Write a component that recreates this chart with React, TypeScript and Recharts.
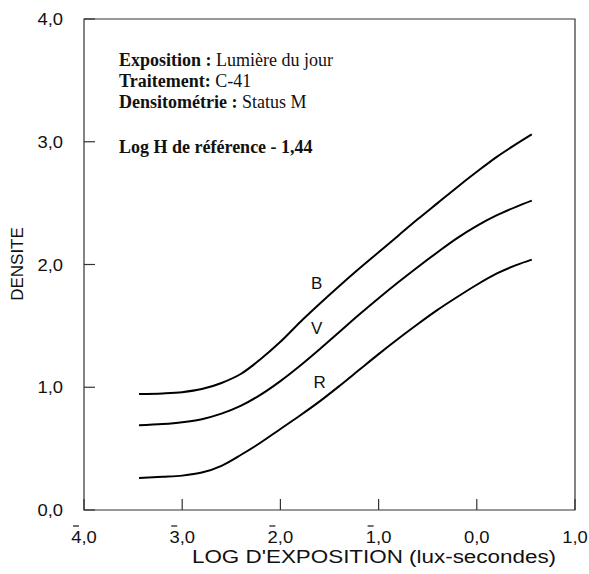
import React from 'react';
import {
    LineChart,
    Line,
    XAxis,
    YAxis,
    ReferenceArea,
    ReferenceDot,
    Customized,
} from 'recharts';

// log exposure (lux-seconds) sampled along the curves
const logE = [-3.44, -3.2, -3.0, -2.8, -2.6, -2.4, -2.2, -2.0, -1.8, -1.6, -1.4, -1.2, -1.0, -0.8, -0.6, -0.4, -0.2, 0.0, 0.2, 0.4, 0.56];
const densB = [0.945, 0.95, 0.96, 0.985, 1.035, 1.11, 1.23, 1.37, 1.53, 1.68, 1.825, 1.965, 2.1, 2.235, 2.37, 2.5, 2.63, 2.755, 2.875, 2.98, 3.06];
const densV = [0.69, 0.7, 0.715, 0.74, 0.785, 0.85, 0.94, 1.05, 1.175, 1.31, 1.45, 1.59, 1.725, 1.855, 1.98, 2.1, 2.215, 2.315, 2.4, 2.47, 2.52];
const densR = [0.26, 0.27, 0.28, 0.305, 0.36, 0.45, 0.55, 0.66, 0.77, 0.885, 1.01, 1.14, 1.27, 1.395, 1.515, 1.63, 1.735, 1.835, 1.925, 1.995, 2.04];

const xTicks = [-4, -3, -2, -1, 0, 1];
const yTicks = [0, 1, 2, 3, 4];

const curveLabels = [
    { name: 'B', x: -1.63, y: 1.85 },
    { name: 'V', x: -1.63, y: 1.48 },
    { name: 'R', x: -1.6, y: 1.04 },
];

const infoLines = [
    { bold: 'Exposition :', normal: ' Lumière du jour' },
    { bold: 'Traitement:', normal: ' C-41' },
    { bold: 'Densitométrie :', normal: ' Status M' },
];
const refLine = 'Log H de référence - 1,44';

const data = logE.map((x, i) => ({ x, B: densB[i], V: densV[i], R: densR[i] }));

const SANS = '"Liberation Sans", Arial, sans-serif';
const SERIF = '"Liberation Serif", "Times New Roman", serif';
const AXIS = '#333';
const TEXT = '#111';

const fmt = (v: number) => `${Math.abs(v)},0`;

const XTick = (props: any) => {
    const { x, y, payload } = props;
    const v = payload.value as number;
    return (
        <g>
            <line x1={x} y1={y} x2={x} y2={y - 11} stroke={AXIS} strokeWidth={1.2} />
            <text
                transform={`translate(${x},${y + 33}) scale(1.15,1)`}
                textAnchor="middle"
                fontSize={16}
                fontFamily={SANS}
                fill={TEXT}
            >
                {fmt(v)}
            </text>
            {v < 0 && <line x1={x - 11} x2={x - 5} y1={y + 16} y2={y + 16} stroke={TEXT} strokeWidth={1.2} />}
        </g>
    );
};

const YTick = (props: any) => {
    const { x, y, payload } = props;
    return (
        <g>
            <line x1={x} y1={y} x2={x + 11} y2={y} stroke={AXIS} strokeWidth={1.2} />
            <text
                transform={`translate(${x - 21},${y + 6}) scale(1.15,1)`}
                textAnchor="end"
                fontSize={16}
                fontFamily={SANS}
                fill={TEXT}
            >
                {fmt(payload.value)}
            </text>
        </g>
    );
};

const Annotations = () => (
    <g>
        {infoLines.map((l, i) => (
            <text key={l.bold} x={119} y={65.5 + i * 21} fontSize={18} fontFamily={SERIF} fill={TEXT}>
                <tspan fontWeight="bold">{l.bold}</tspan>
                <tspan>{l.normal}</tspan>
            </text>
        ))}
        <text x={119} y={152.5} fontSize={18} fontFamily={SERIF} fontWeight="bold" fill={TEXT}>
            {refLine}
        </text>
        <text
            transform="translate(374,563) scale(1.18,1)"
            textAnchor="middle"
            fontSize={19}
            fontFamily={SANS}
            fill={TEXT}
        >
            LOG D'EXPOSITION (lux-secondes)
        </text>
        <text
            transform="translate(23,264) rotate(-90)"
            textAnchor="middle"
            fontSize={17}
            fontFamily={SANS}
            fill={TEXT}
        >
            DENSITE
        </text>
    </g>
);

export default function App() {
    return (
        <div style={{ position: 'absolute', left: 0, top: 0, background: '#fff' }}>
            <LineChart width={589} height={574} data={data} margin={{ top: 19, right: 14, left: 0, bottom: 0 }}>
                <XAxis
                    dataKey="x"
                    type="number"
                    domain={[-4, 1]}
                    ticks={xTicks}
                    height={64}
                    axisLine={false}
                    tickLine={false}
                    tickSize={0}
                    tickMargin={0}
                    tick={<XTick />}
                    interval={0}
                />
                <YAxis
                    type="number"
                    domain={[0, 4]}
                    ticks={yTicks}
                    width={84}
                    axisLine={false}
                    tickLine={false}
                    tickSize={0}
                    tickMargin={0}
                    tick={<YTick />}
                    interval={0}
                />
                <ReferenceArea x1={-4} x2={1} y1={0} y2={4} fill="none" stroke={AXIS} strokeWidth={1.2} />
                <Line type="monotone" dataKey="B" stroke="#000" strokeWidth={2} dot={false} activeDot={false} isAnimationActive={false} />
                <Line type="monotone" dataKey="V" stroke="#000" strokeWidth={2} dot={false} activeDot={false} isAnimationActive={false} />
                <Line type="monotone" dataKey="R" stroke="#000" strokeWidth={2} dot={false} activeDot={false} isAnimationActive={false} />
                {curveLabels.map((c) => (
                    <ReferenceDot
                        key={c.name}
                        x={c.x}
                        y={c.y}
                        r={1}
                        fill="none"
                        stroke="none"
                        label={{ value: c.name, position: 'center', fontSize: 17, fontFamily: SANS, fill: TEXT }}
                    />
                ))}
                <Customized component={Annotations} />
            </LineChart>
        </div>
    );
}
